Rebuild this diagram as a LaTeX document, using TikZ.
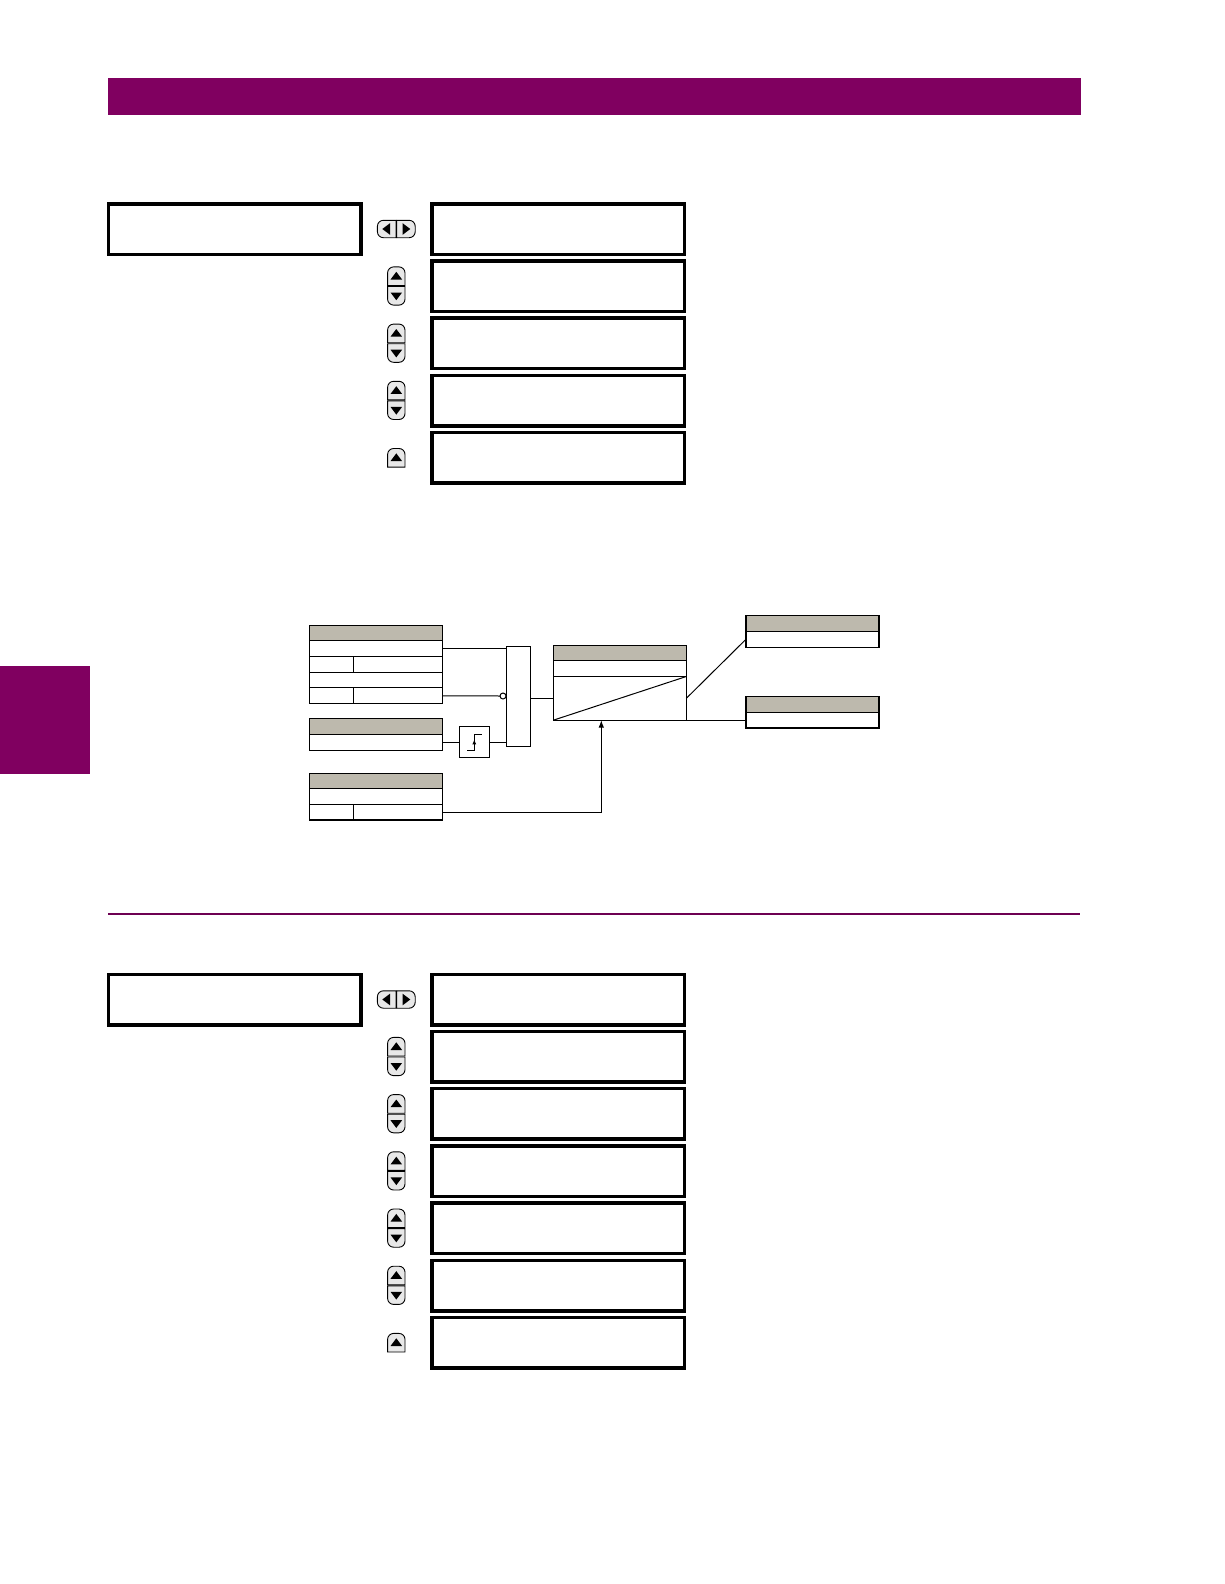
\documentclass[tikz,border=0pt]{standalone}
\usepackage{xcolor}
\usetikzlibrary{arrows.meta, positioning, calc}
\definecolor{bandpurple}{RGB}{128,0,96}
\definecolor{hdrgray}{RGB}{189,185,173}

\begin{document}
\begin{tikzpicture}[
    x=1pt, y=-1pt,
    >=Latex,
    screen/.style={draw, line width=3.5pt, minimum width=252.5pt, minimum height=50.5pt, inner sep=0pt, fill=white},
    hdr/.style={draw, line width=1.1pt, minimum width=133pt, minimum height=15.5pt, inner sep=0pt, outer sep=0pt, fill=hdrgray},
    row/.style={hdr, fill=white, minimum height=15.7pt},
    rowval/.style={row, minimum width=89pt},
    gate/.style={draw, line width=1pt, minimum width=24.7pt, minimum height=100pt, inner sep=0pt, outer sep=0pt, fill=white},
    timer/.style={draw, line width=1pt, minimum width=30pt, minimum height=31.3pt, inner sep=0pt, outer sep=0pt, fill=white},
    inv/.style={draw, circle, line width=1pt, minimum size=6pt, inner sep=0pt, outer sep=0pt, fill=white},
    line/.style={line width=1pt},
    keybody/.style={draw=black, line width=0.9pt, fill=black!9},
    keyup/.pic={
        \draw[keybody] (-8.7,9.3) [rounded corners=6pt] -- (-8.7,-9.3) -- (8.7,-9.3) [sharp corners] -- (8.7,9.3) -- cycle;
        \fill[black] (-5.8,3.3) -- (0,-4.4) -- (5.8,3.3) -- cycle;
    },
    keypair/.pic={
        \pic at (0,-10) {keyup};
        \pic[yscale=-1] at (0,9.6) {keyup};
    },
    keylr/.pic={
        \pic[rotate=90] at (-9.6,0) {keyup};
        \pic[rotate=-90] at (9.6,0) {keyup};
    }
]
\useasboundingbox (0,0) rectangle (1224,1584);
\fill[white] (0,0) rectangle (1224,1584);

% ===== PAGE FURNITURE =====
\fill[bandpurple] (108,78) rectangle (1080.5,115);
\fill[bandpurple] (0,665.5) rectangle (90,773.6);
\draw[bandpurple!85!black, line width=1.4pt] (108,914) -- (1080,914);

% ===== TOP MENU =====
\node[screen, anchor=north west] (menuA) at (106.7,202) {};

% Right column of screens
\node[screen, anchor=north west] (scrA1) at (430,202) {};
\node[screen, below=3.2pt of scrA1] (scrA2) {};
\node[screen, below=3.2pt of scrA2] (scrA3) {};
\node[screen, below=3.2pt of scrA3] (scrA4) {};
\node[screen, below=3.2pt of scrA4] (scrA5) {};

% Key icons left of the screens
\coordinate[left=33.7pt of scrA1] (keyA1);
\coordinate[left=33.7pt of scrA2] (keyA2);
\coordinate[left=33.7pt of scrA3] (keyA3);
\coordinate[left=33.7pt of scrA4] (keyA4);
\coordinate[left=33.7pt of scrA5] (keyA5);
\pic at (keyA1) {keylr};
\pic at (keyA2) {keypair};
\pic at (keyA3) {keypair};
\pic at (keyA4) {keypair};
\pic at (keyA5) {keyup};

% ===== LOGIC DIAGRAM =====
% Upper input block
\node[hdr, anchor=north west] (ctlhdr) at (309.3,625.3) {};
\node[row, below=0pt of ctlhdr] (ctlA) {};
\node[row, below=0pt of ctlA] (ctlAbody) {};
\node[rowval, anchor=south east] (ctlAval) at (ctlAbody.south east) {};
\node[row, below=0pt of ctlAbody] (ctlB) {};
\node[row, below=0pt of ctlB] (ctlBbody) {};
\node[rowval, anchor=south east] (ctlBval) at (ctlBbody.south east) {};

% Middle input block and timer
\node[hdr, below=15.3pt of ctlBbody] (rtdhdr) {};
\node[row, below=0pt of rtdhdr] (rtdval) {};
\node[timer, right=17pt of rtdval] (tmr) {};

% Lower input block
\node[hdr, below=23pt of rtdval] (blkhdr) {};
\node[row, below=0pt of blkhdr] (blkA) {};
\node[row, below=0pt of blkA] (blkbody) {};
\node[rowval, anchor=south east] (blkval) at (blkbody.south east) {};

% Gate and latch
\node[gate, anchor=north west] (orgate) at (506,646) {};
\node[inv, left=0pt of orgate] (invA) {};
\node[hdr, anchor=north west] (latchhdr) at (553.3,645.3) {};
\node[row, below=0pt of latchhdr] (latchrow) {};
\node[row, minimum height=43.7pt, below=0pt of latchrow] (latch) {};
\draw[line] (latch.south west) -- (latch.north east);

% Output blocks
\node[hdr, right=59.7pt of latchhdr, yshift=29.4pt] (outAhdr) {};
\node[row, below=0pt of outAhdr] (outA) {};
\node[hdr, below=49.7pt of outA] (outBhdr) {};
\node[row, below=0pt of outBhdr] (outB) {};

% Free ends on the latch edge
\coordinate (setin) at ($(latch.south west)+(48,0)$);
\coordinate (rstout) at ($(latch.south west)+(79.4,0)$);

% Timer symbol
\draw[line] ($(tmr.center)+(-7.3,8)$) -- ($(tmr.center)+(0,8)$) -- ($(tmr.center)+(0,-7.4)$) -- ($(tmr.center)+(7.3,-7.4)$);
\draw[-{Latex[length=5pt,width=4pt]}, line] ($(tmr.center)+(0,4)$) -- ($(tmr.center)+(0,-3)$);

% ===== CONNECTIONS =====
\draw[line] (ctlA.east) -- (ctlA.east -| orgate.west);
\draw[line] (ctlBval.east) -- (invA.west);
\draw[line] (rtdval.east) -- (tmr.west);
\draw[line] (tmr.east) -- (tmr.east -| orgate.west);
\draw[line] (orgate.east |- latch.west) -- (latch.west);
\draw[line] (latch.east) -- (outA.west);
\draw[line] (outB.west) -| (rstout);
\draw[line, ->] (blkval.east) -| (setin);

% ===== BOTTOM MENU =====
\node[screen, anchor=north west] (menuB) at (106.7,972.5) {};

\node[screen, anchor=north west] (scrB1) at (430,972.5) {};
\node[screen, below=3.2pt of scrB1] (scrB2) {};
\node[screen, below=3.2pt of scrB2] (scrB3) {};
\node[screen, below=3.2pt of scrB3] (scrB4) {};
\node[screen, below=3.2pt of scrB4] (scrB5) {};
\node[screen, below=3.2pt of scrB5] (scrB6) {};
\node[screen, below=3.2pt of scrB6] (scrB7) {};

\coordinate[left=33.7pt of scrB1] (keyB1);
\coordinate[left=33.7pt of scrB2] (keyB2);
\coordinate[left=33.7pt of scrB3] (keyB3);
\coordinate[left=33.7pt of scrB4] (keyB4);
\coordinate[left=33.7pt of scrB5] (keyB5);
\coordinate[left=33.7pt of scrB6] (keyB6);
\coordinate[left=33.7pt of scrB7] (keyB7);
\pic at (keyB1) {keylr};
\pic at (keyB2) {keypair};
\pic at (keyB3) {keypair};
\pic at (keyB4) {keypair};
\pic at (keyB5) {keypair};
\pic at (keyB6) {keypair};
\pic at (keyB7) {keyup};

\end{tikzpicture}
\end{document}
